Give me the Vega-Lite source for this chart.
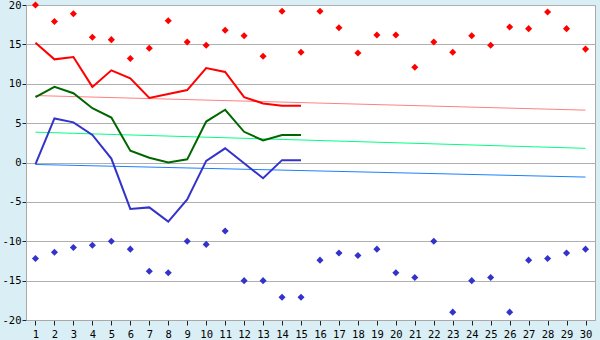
{
  "$schema": "https://vega.github.io/schema/vega-lite/v6.json",
  "width": 569,
  "height": 315,
  "autosize": {"type": "none"},
  "padding": {"left": 26, "top": 5, "right": 5, "bottom": 20},
  "background": "#d9eef5",
  "config": {
    "view": {"fill": "white", "stroke": "#a8a8a8", "strokeWidth": 1},
    "axis": {
      "labelFont": "DejaVu Sans Mono",
      "labelFontSize": 10.5,
      "labelColor": "#000000",
      "domainColor": "#a8a8a8",
      "tickColor": "#222222",
      "title": null
    }
  },
  "datasets": {
    "daily": [
      {"day": 1, "rmax": 20.0, "rmin": -12.2, "hi": 15.2, "avg": 8.3, "lo": -0.2},
      {"day": 2, "rmax": 17.9, "rmin": -11.4, "hi": 13.1, "avg": 9.6, "lo": 5.6},
      {"day": 3, "rmax": 18.9, "rmin": -10.8, "hi": 13.4, "avg": 8.8, "lo": 5.1},
      {"day": 4, "rmax": 15.9, "rmin": -10.5, "hi": 9.6, "avg": 6.9, "lo": 3.5},
      {"day": 5, "rmax": 15.6, "rmin": -10.0, "hi": 11.7, "avg": 5.7, "lo": 0.5},
      {"day": 6, "rmax": 13.2, "rmin": -11.0, "hi": 10.7, "avg": 1.5, "lo": -5.9},
      {"day": 7, "rmax": 14.5, "rmin": -13.8, "hi": 8.2, "avg": 0.6, "lo": -5.7},
      {"day": 8, "rmax": 18.0, "rmin": -14.0, "hi": 8.7, "avg": 0.0, "lo": -7.5},
      {"day": 9, "rmax": 15.3, "rmin": -10.0, "hi": 9.2, "avg": 0.4, "lo": -4.7},
      {"day": 10, "rmax": 14.9, "rmin": -10.4, "hi": 12.0, "avg": 5.2, "lo": 0.2},
      {"day": 11, "rmax": 16.8, "rmin": -8.7, "hi": 11.5, "avg": 6.7, "lo": 1.8},
      {"day": 12, "rmax": 16.1, "rmin": -15.0, "hi": 8.3, "avg": 3.9, "lo": -0.1},
      {"day": 13, "rmax": 13.5, "rmin": -15.0, "hi": 7.5, "avg": 2.8, "lo": -2.0},
      {"day": 14, "rmax": 19.2, "rmin": -17.1, "hi": 7.2, "avg": 3.5, "lo": 0.3},
      {"day": 15, "rmax": 14.0, "rmin": -17.1, "hi": 7.2, "avg": 3.5, "lo": 0.3},
      {"day": 16, "rmax": 19.2, "rmin": -12.4, "hi": null, "avg": null, "lo": null},
      {"day": 17, "rmax": 17.1, "rmin": -11.5, "hi": null, "avg": null, "lo": null},
      {"day": 18, "rmax": 13.9, "rmin": -11.8, "hi": null, "avg": null, "lo": null},
      {"day": 19, "rmax": 16.2, "rmin": -11.0, "hi": null, "avg": null, "lo": null},
      {"day": 20, "rmax": 16.2, "rmin": -14.0, "hi": null, "avg": null, "lo": null},
      {"day": 21, "rmax": 12.1, "rmin": -14.6, "hi": null, "avg": null, "lo": null},
      {"day": 22, "rmax": 15.3, "rmin": -10.0, "hi": null, "avg": null, "lo": null},
      {"day": 23, "rmax": 14.0, "rmin": -19.0, "hi": null, "avg": null, "lo": null},
      {"day": 24, "rmax": 16.1, "rmin": -15.0, "hi": null, "avg": null, "lo": null},
      {"day": 25, "rmax": 14.9, "rmin": -14.6, "hi": null, "avg": null, "lo": null},
      {"day": 26, "rmax": 17.2, "rmin": -19.0, "hi": null, "avg": null, "lo": null},
      {"day": 27, "rmax": 17.0, "rmin": -12.4, "hi": null, "avg": null, "lo": null},
      {"day": 28, "rmax": 19.1, "rmin": -12.2, "hi": null, "avg": null, "lo": null},
      {"day": 29, "rmax": 17.0, "rmin": -11.5, "hi": null, "avg": null, "lo": null},
      {"day": 30, "rmax": 14.4, "rmin": -11.0, "hi": null, "avg": null, "lo": null}
    ],
    "trend": [
      {"day": 1, "thi": 8.5, "tavg": 3.85, "tlo": -0.25},
      {"day": 30, "thi": 6.65, "tavg": 1.8, "tlo": -1.85}
    ]
  },
  "encoding": {
    "x": {
      "field": "day",
      "type": "quantitative",
      "scale": {"domain": [0.5, 30.5], "nice": false, "zero": false},
      "axis": {
        "values": [1,2,3,4,5,6,7,8,9,10,11,12,13,14,15,16,17,18,19,20,21,22,23,24,25,26,27,28,29,30],
        "tickCount": 40,
        "tickSize": 5,
        "grid": false,
        "labelPadding": 4,
        "labelFlush": false
      }
    },
    "y": {
      "field": "v",
      "type": "quantitative",
      "scale": {"domain": [-20, 20], "nice": false},
      "axis": {
        "values": [-20, -15, -10, -5, 0, 5, 10, 15, 20],
        "tickCount": 12,
        "tickSize": 4,
        "labelOverlap": false,
        "grid": true,
        "gridColor": "#b0b0b0",
        "gridOpacity": 1,
        "labelExpr": "'' + datum.value",
        "labelPadding": 1
      }
    }
  },
  "layer": [
    {
      "data": {"name": "trend"},
      "transform": [{"fold": ["thi"], "as": ["s", "v"]}],
      "mark": {"type": "line", "color": "#ff8080", "strokeWidth": 1}
    },
    {
      "data": {"name": "trend"},
      "transform": [{"fold": ["tavg"], "as": ["s", "v"]}],
      "mark": {"type": "line", "color": "#00ff80", "strokeWidth": 1}
    },
    {
      "data": {"name": "trend"},
      "transform": [{"fold": ["tlo"], "as": ["s", "v"]}],
      "mark": {"type": "line", "color": "#1a80ff", "strokeWidth": 1}
    },
    {
      "data": {"name": "daily"},
      "transform": [{"fold": ["hi"], "as": ["s", "v"]}],
      "mark": {"type": "line", "color": "#ff0000", "strokeWidth": 2}
    },
    {
      "data": {"name": "daily"},
      "transform": [{"fold": ["avg"], "as": ["s", "v"]}],
      "mark": {"type": "line", "color": "#006600", "strokeWidth": 2}
    },
    {
      "data": {"name": "daily"},
      "transform": [{"fold": ["lo"], "as": ["s", "v"]}],
      "mark": {"type": "line", "color": "#3333cc", "strokeWidth": 2}
    },
    {
      "data": {"name": "daily"},
      "transform": [{"fold": ["rmax"], "as": ["s", "v"]}],
      "mark": {"type": "point", "shape": "diamond", "filled": true, "opacity": 1, "color": "#ff0000", "size": 50}
    },
    {
      "data": {"name": "daily"},
      "transform": [{"fold": ["rmin"], "as": ["s", "v"]}],
      "mark": {"type": "point", "shape": "diamond", "filled": true, "opacity": 1, "color": "#3333cc", "size": 50}
    }
  ]
}
